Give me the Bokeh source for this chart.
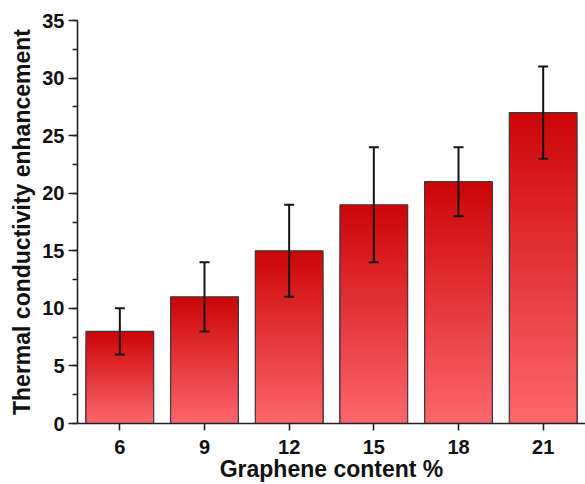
import numpy as np
from bokeh.plotting import figure
from bokeh.models import FixedTicker, SingleIntervalTicker, Range1d
from bokeh.embed import file_html
from bokeh.resources import INLINE

# ---- data ----
graphene = [6, 9, 12, 15, 18, 21]
enhancement = [8, 11, 15, 19, 21, 27]
err_low = [6, 8, 11, 14, 18, 23]
err_high = [10, 14, 19, 24, 24, 31]
x_ticks = [6, 9, 12, 15, 18, 21]

TOP = (204, 6, 8)
BOT = (252, 104, 110)
NSLICE = 60
BAR_W = 2.4

p = figure(width=585, height=484, output_backend="svg", toolbar_location=None,
           x_range=Range1d(4.5, 22.5), y_range=Range1d(0, 35),
           min_border_left=77, min_border_right=0, min_border_top=20, min_border_bottom=61)
p.background_fill_color = "white"
p.border_fill_color = "white"
p.outline_line_color = None
p.xgrid.visible = False
p.ygrid.visible = False

# gradient bars: overlapping slices from the bar bottom to a fraction of the value
sx, stop, scol = [], [], []
for k in range(NSLICE, 0, -1):
    f = k / NSLICE
    c = tuple(int(round(BOT[i] + (TOP[i] - BOT[i]) * f)) for i in range(3))
    col = "#%02x%02x%02x" % c
    for g, v in zip(graphene, enhancement):
        sx.append(g)
        stop.append(v * f)
        scol.append(col)
p.vbar(x=sx, top=stop, bottom=0, width=BAR_W, fill_color=scol, line_color=None)
p.vbar(x=graphene, top=enhancement, bottom=0, width=BAR_W, fill_alpha=0,
       line_color="#3a3a3a", line_width=1.2)

# error bars
p.segment(x0=graphene, y0=err_low, x1=graphene, y1=err_high, line_color="#151515", line_width=2)
p.dash(x=graphene, y=err_low, size=10, line_color="#151515", line_width=2)
p.dash(x=graphene, y=err_high, size=10, line_color="#151515", line_width=2)

FONT = "Liberation Sans"
for ax in (p.xaxis[0], p.yaxis[0]):
    ax.axis_line_color = "#222222"
    ax.axis_line_width = 1.6
    ax.major_tick_line_color = "#222222"
    ax.major_tick_line_width = 1.6
    ax.minor_tick_line_color = "#222222"
    ax.minor_tick_line_width = 1.4
    ax.major_label_text_font = FONT
    ax.major_label_text_font_style = "bold"
    ax.major_label_text_font_size = "20px"
    ax.major_label_text_color = "#111111"
    ax.axis_label_text_font = FONT
    ax.axis_label_text_font_style = "bold"
    ax.axis_label_text_font_size = "23px"
    ax.axis_label_text_color = "#111111"

p.xaxis.ticker = FixedTicker(ticks=x_ticks)
p.xaxis.major_tick_in = 0
p.xaxis.major_tick_out = 7
p.xaxis.minor_tick_out = 0
p.xaxis.axis_label = "Graphene content %"
p.xaxis.axis_label_standoff = -1
p.xaxis.major_label_standoff = 9
p.xaxis.major_label_text_line_height = 1.0
p.xaxis.axis_label_text_line_height = 1.0

p.yaxis.ticker = SingleIntervalTicker(interval=5, num_minor_ticks=2)
p.yaxis.major_tick_in = 0
p.yaxis.major_tick_out = 9
p.yaxis.minor_tick_in = 0
p.yaxis.minor_tick_out = 5
p.yaxis.axis_label = "Thermal conductivity enhancement"
p.yaxis.axis_label_standoff = 4
p.yaxis.major_label_standoff = 4

open("out.html", "w").write(file_html(p, INLINE))
